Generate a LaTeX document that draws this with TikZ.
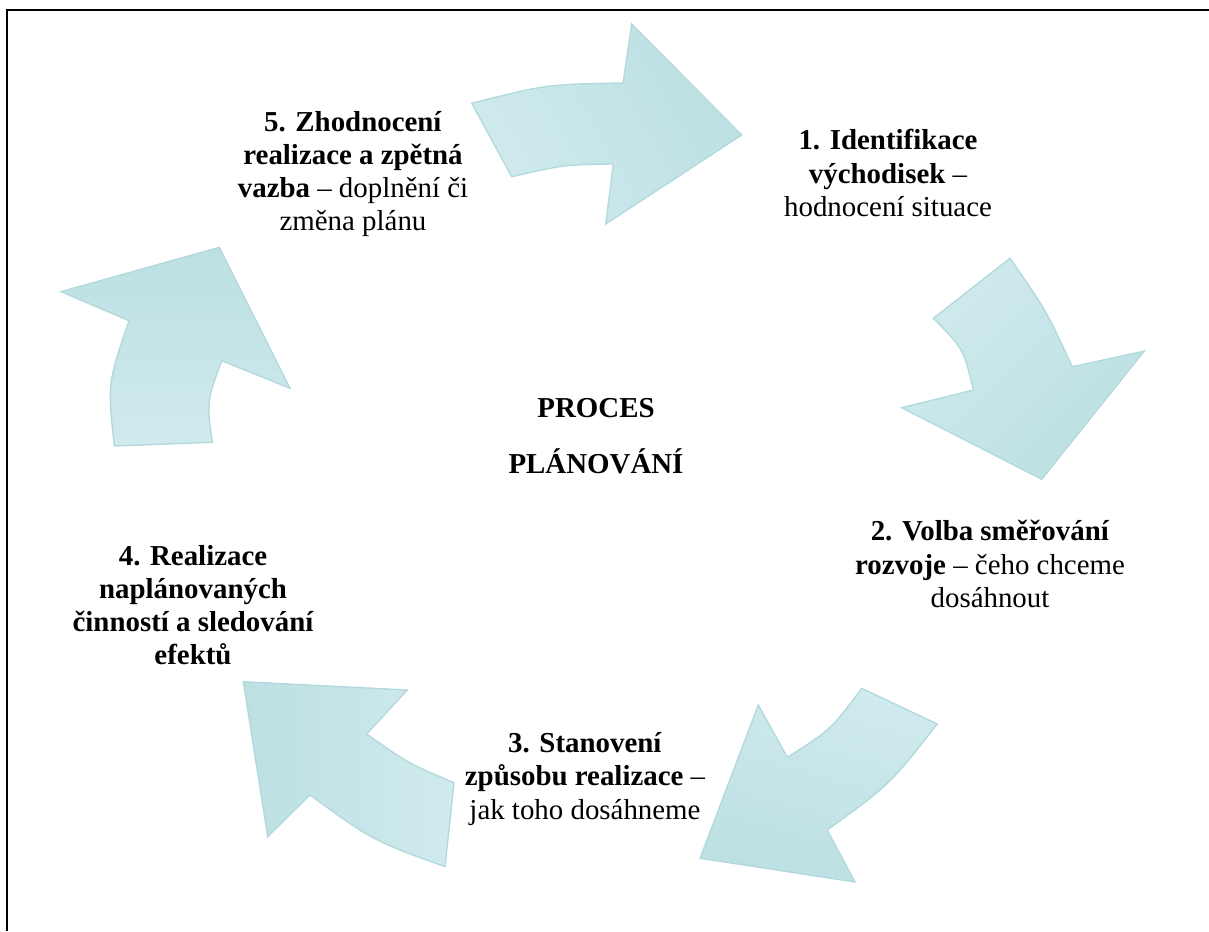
\documentclass[tikz,border=0pt]{standalone}
\usepackage{fontspec}
\setmainfont{Liberation Serif}
\usepackage{tikz}
\usetikzlibrary{positioning}
\definecolor{arrowlight}{RGB}{208,234,237}
\definecolor{arrowdark}{RGB}{188,224,227}
\definecolor{arrowedge}{RGB}{178,217,221}

\begin{document}
\begin{tikzpicture}[x=0.45pt, y=-0.45pt,
    cyclearrow/.style={draw=arrowedge, line width=0.6pt, top color=arrowlight,
        bottom color=arrowdark, shading angle=#1},
    steptext/.style={align=center, inner sep=0pt, font=\fontsize{13}{14.9}\selectfont}]
    \useasboundingbox (0,0) rectangle (1209,931);

    % Frame
    \draw[line width=1pt] (7,931) -- (7,10) -- (1209,10);

    % Cycle arrows
    \path[cyclearrow=120] (471.7,103.3) .. controls (546.5,84.3) .. (623,83) -- (631.7,24)
        -- (741.7,135) -- (605.7,224) -- (613.3,164) .. controls (563.6,164.8) .. (511.7,176.7) -- cycle;
    \path[cyclearrow=45] (1010,258.3) .. controls (1045.9,309.8) .. (1072.3,366.7) -- (1144.3,351)
        -- (1041.7,479.3) -- (901.7,407.7) -- (973.3,390) .. controls (963.4,348.6) .. (933.3,318.3) -- cycle;
    \path[cyclearrow=-15] (861.7,688.3) -- (937.3,724) .. controls (889.7,784.7) .. (827.3,830)
        -- (855,882) -- (700,858.3) -- (758.3,705) -- (787.3,757.3) .. controls (830.9,729.6) .. (861.7,688.3) -- cycle;
    \path[cyclearrow=270] (445,866.7) -- (454,782.7) .. controls (407.8,763.1) .. (366.7,734) -- (407.3,690)
        -- (243.3,681.7) -- (267.7,836.7) -- (310,795) .. controls (372.4,840.4) .. (445,866.7) -- cycle;
    \path[cyclearrow=180] (114.3,446) -- (212.3,442.3) .. controls (206.7,401.5) .. (221.7,360.7) -- (290,388.3)
        -- (219.3,247.3) -- (61,291.7) -- (129,320.7) .. controls (107.5,383.6) .. (114.3,446) -- cycle;

    % Step texts
    \node[steptext] (ident) at (888,173) {\textbf{1. Identifikace}\\\textbf{východisek} --\\hodnocení situace};
    \node[steptext] (volba) at (990,564) {\textbf{2. Volba směřování}\\\textbf{rozvoje} -- čeho chceme\\dosáhnout};
    \node[steptext] (stanov) at (585,779) {\textbf{3. Stanovení}\\\textbf{způsobu realizace} --\\jak toho dosáhneme};
    \node[steptext, font=\fontsize{13}{14.9}\selectfont\bfseries] (realiz) at (193,605)
        {4. Realizace\\naplánovaných\\činností a sledování\\efektů};
    \node[steptext] (zhodn) at (353,174) {\textbf{5. Zhodnocení}\\\textbf{realizace a zpětná}\\\textbf{vazba} -- doplnění či\\změna plánu};

    % Centre title
    \node[steptext, font=\fontsize{13}{15}\selectfont\bfseries] (title) at (596,436) {PROCES\\[10pt]PLÁNOVÁNÍ};
\end{tikzpicture}
\end{document}
